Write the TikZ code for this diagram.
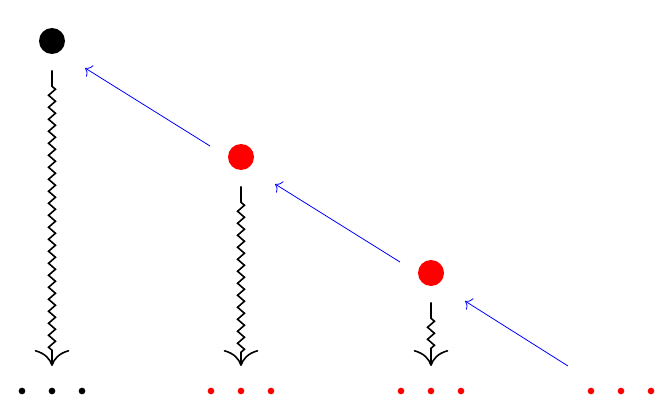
\documentclass[tikz,border=0pt]{standalone}
\usepackage{tikz}
\usetikzlibrary{decorations.pathmorphing,arrows.meta,positioning}

\begin{document}
\begin{tikzpicture}[
                x=0.75pt,y=-0.75pt,
                big/.style={circle,inner sep=0pt,minimum size=19.5pt},
                dot/.style={circle,inner sep=0pt,minimum size=5pt},
                wiggle/.style={very thick,decorate,
                    decoration={zigzag,amplitude=2.6pt,segment length=9pt,pre length=12pt,post length=10pt},
                    -{Computer Modern Rightarrow[width=26pt,length=12pt]}},
                jump/.style={blue,line width=0.6pt,-{To[width=10pt,length=4.5pt]}}
            ]
                \useasboundingbox (0,0) rectangle (671,410);

                \node[big,fill=black] (b0) at (52,41)  {};
                \node[big,fill=red]   (r1) at (241,157) {};
                \node[big,fill=red]   (r2) at (431,273) {};

                % rows of dots at the bottom
                \foreach \n/\x/\c in {0/52/black,1/241/red,2/431/red,3/621/red}{
                    \node[dot,fill=\c] (dl\n) at (\x-30,391) {};
                    \node[dot,fill=\c] (dm\n) at (\x,391)    {};
                    \node[dot,fill=\c] (dr\n) at (\x+30,391) {};
                    \coordinate (t\n) at (\x,366);
                }

                \draw[wiggle] ([yshift=-12pt]b0.south) -- (t0);
                \draw[wiggle] ([yshift=-12pt]r1.south) -- (t1);
                \draw[wiggle] ([yshift=-12pt]r2.south) -- (t2);

                \coordinate (s1) at (210,146);
                \coordinate (e0) at (85,68);
                \coordinate (s2) at (400,262);
                \coordinate (e1) at (275,184);
                \coordinate (s3) at (568,366);
                \coordinate (e2) at (465,301);

                \draw[jump] (s1) -- (e0);
                \draw[jump] (s2) -- (e1);
                \draw[jump] (s3) -- (e2);
            \end{tikzpicture}
\end{document}
